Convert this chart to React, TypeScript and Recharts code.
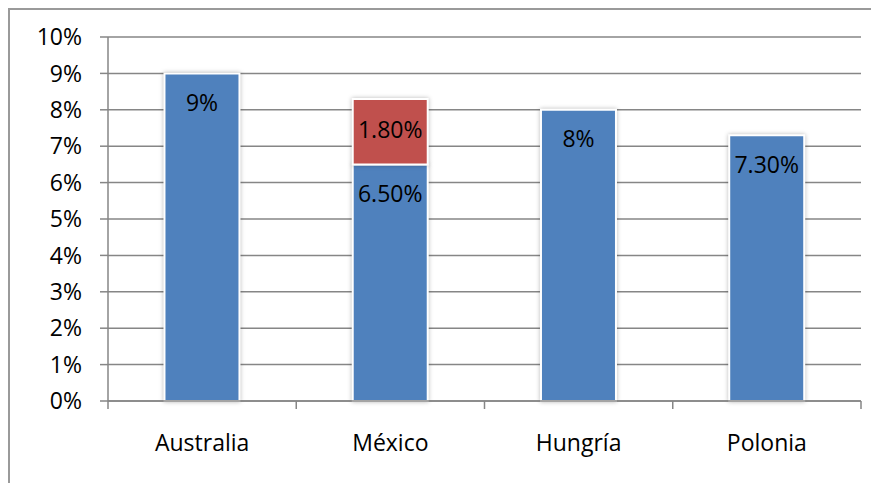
import { BarChart, Bar, XAxis, YAxis, CartesianGrid, LabelList } from 'recharts';

const countries = ['Australia', 'México', 'Hungría', 'Polonia'];
const baseRate = [9, 6.5, 8, 7.3];
const extraRate: (number | null)[] = [null, 1.8, null, null];
const yTicks = [0, 1, 2, 3, 4, 5, 6, 7, 8, 9, 10];

const data = countries.map((name, i) => ({ name, base: baseRate[i], extra: extraRate[i] }));

const CHART_W = 869;
const CHART_H = 473;
const Y_AXIS_W = 98;
const MARGIN = { top: 27, right: 18, left: 0, bottom: 32 };
const BAND = (CHART_W - MARGIN.left - MARGIN.right - Y_AXIS_W) / countries.length;

const FONT = '"Open Sans", sans-serif';
const FONT_SIZE = 23;
const AXIS_COLOR = '#868686';

const fmtPct = (v: any) => {
  if (v == null) return '';
  return Number.isInteger(v) ? `${v}%` : `${Number(v).toFixed(2)}%`;
};

// category label in the middle, tick marks on the category boundaries
function CountryTick({ x, y, payload, index }: any) {
  const half = BAND / 2;
  return (
    <g>
      <line x1={x - half} x2={x - half} y1={y - 8} y2={y} stroke={AXIS_COLOR} strokeWidth={1.5} />
      {index === countries.length - 1 && (
        <line x1={x + half} x2={x + half} y1={y - 8} y2={y} stroke={AXIS_COLOR} strokeWidth={1.5} />
      )}
      <text x={x} y={y} dy={42} textAnchor="middle" fill="#000" fontSize={FONT_SIZE} fontFamily={FONT}>
        {payload.value}
      </text>
    </g>
  );
}

export default function App() {
  return (
    <div
      style={{
        width: CHART_W,
        height: CHART_H,
        borderLeft: '2px solid #9a9a9a',
        borderTop: '2px solid #9a9a9a',
        fontFamily: FONT,
      }}
    >
      <style>{`.recharts-bar-rectangle path { filter: drop-shadow(0 0 2px rgba(0,0,0,0.28)); }`}</style>
      <BarChart width={CHART_W} height={CHART_H} data={data} margin={MARGIN} barCategoryGap="30%">
        <CartesianGrid vertical={false} stroke={AXIS_COLOR} strokeWidth={1.5} />
        <XAxis
          dataKey="name"
          axisLine={{ stroke: AXIS_COLOR, strokeWidth: 1.5 }}
          tickLine={false}
          tickSize={8}
          tickMargin={0}
          height={50}
          interval={0}
          tick={<CountryTick />}
        />
        <YAxis
          width={Y_AXIS_W}
          domain={[0, 10]}
          ticks={yTicks}
          interval={0}
          tickFormatter={(v) => `${v}%`}
          axisLine={{ stroke: AXIS_COLOR, strokeWidth: 1.5 }}
          tickLine={{ stroke: AXIS_COLOR, strokeWidth: 1.5 }}
          tickSize={8}
          tickMargin={18}
          tick={{ fill: '#000', fontSize: FONT_SIZE, fontFamily: FONT }}
        />
        <Bar dataKey="base" stackId="a" fill="#4F81BD" stroke="#fff" strokeWidth={2} isAnimationActive={false}>
          <LabelList
            dataKey="base"
            position="insideTop"
            offset={21}
            formatter={fmtPct}
            fill="#000"
            fontSize={FONT_SIZE}
            fontFamily={FONT}
          />
        </Bar>
        <Bar dataKey="extra" stackId="a" fill="#C0504D" stroke="#fff" strokeWidth={2} isAnimationActive={false}>
          <LabelList
            dataKey="extra"
            position="insideTop"
            offset={23}
            formatter={fmtPct}
            fill="#000"
            fontSize={FONT_SIZE}
            fontFamily={FONT}
          />
        </Bar>
      </BarChart>
    </div>
  );
}
